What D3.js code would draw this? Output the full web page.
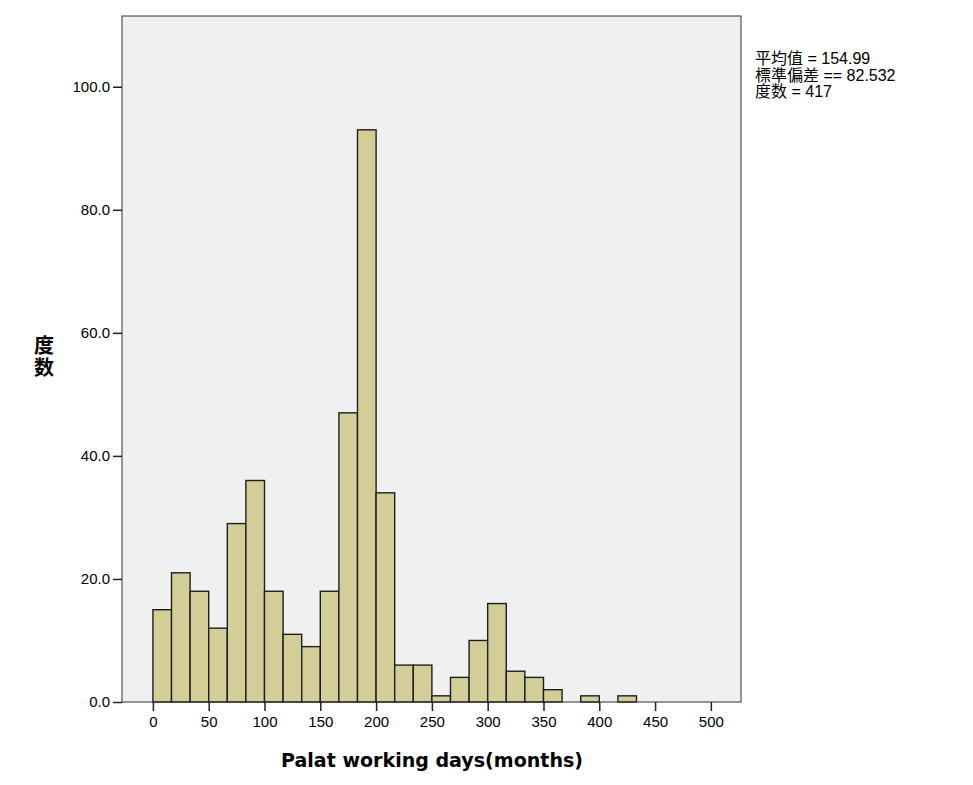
<!DOCTYPE html>
<html>
<head>
<meta charset="utf-8">
<script src="https://cdn.jsdelivr.net/npm/d3@7"></script>
<style>
  body { margin: 0; background: #fff; }
  text { font-family: "Liberation Sans", Arial, sans-serif; fill: #000; }
  .cjk { font-family: "Noto Sans CJK TC", "Noto Sans CJK SC", sans-serif; }
</style>
</head>
<body>
<div id="chart"></div>
<script>
// histogram bins (months), width 500/30
const binWidth = 50 / 3;
const binStarts = d3.range(0, 26).map(i => i * binWidth);
const counts = [15, 21, 18, 12, 29, 36, 18, 11, 9, 18, 47, 93, 34, 6, 6, 1, 4, 10, 16, 5, 4, 2, 0, 1, 0, 1];
const xTicks = [0, 50, 100, 150, 200, 250, 300, 350, 400, 450, 500];
const yTicks = [0, 20, 40, 60, 80, 100];
const statLines = ['平均值 = 154.99', '標準偏差 == 82.532', '度数 = 417'];

const margin = { top: 16, right: 232, bottom: 83, left: 122 };
const width = 973 - margin.left - margin.right;
const height = 785 - margin.top - margin.bottom;

const svg = d3.select('#chart').append('svg')
    .attr('width', 973)
    .attr('height', 785);

const g = svg.append('g')
    .attr('transform', `translate(${margin.left},${margin.top})`);

const xScale = d3.scaleLinear().domain([-27.7, 527]).range([0, width]);
const yScale = d3.scaleLinear().domain([0, 111.5]).range([height, 0]);

// plot background
g.append('rect')
    .attr('width', width)
    .attr('height', height)
    .attr('fill', '#f0f0f0');

// bars
g.selectAll('rect.bar')
    .data(binStarts.map((s, i) => ({ start: s, count: counts[i] })).filter(d => d.count > 0))
    .enter().append('rect')
    .attr('class', 'bar')
    .attr('x', d => xScale(d.start))
    .attr('y', d => yScale(d.count))
    .attr('width', d => xScale(d.start + binWidth) - xScale(d.start))
    .attr('height', d => yScale(0) - yScale(d.count))
    .attr('fill', '#d3ce97')
    .attr('stroke', '#1e1e1e')
    .attr('stroke-width', 1.4);

// frame
g.append('rect')
    .attr('width', width)
    .attr('height', height)
    .attr('fill', 'none')
    .attr('stroke', '#333')
    .attr('stroke-width', 1);

// axes
const xAxis = d3.axisBottom(xScale).tickValues(xTicks).tickSize(9).tickSizeOuter(0).tickPadding(5);
const yAxis = d3.axisLeft(yScale).tickValues(yTicks).tickSize(9).tickSizeOuter(0).tickPadding(3)
    .tickFormat(d3.format('.1f'));

const gx = g.append('g')
    .attr('transform', `translate(0,${height})`)
    .call(xAxis);
const gy = g.append('g').call(yAxis);

[gx, gy].forEach(a => {
    a.select('.domain').remove();
    a.selectAll('.tick line').attr('stroke', '#222').attr('stroke-width', 1.5);
    a.selectAll('.tick text').style('font-size', '15px').attr('fill', '#000');
});

// x title
svg.append('text')
    .attr('x', 432)
    .attr('y', 767)
    .attr('text-anchor', 'middle')
    .attr('textLength', 302)
    .attr('lengthAdjust', 'spacingAndGlyphs')
    .style('font-family', '"DejaVu Sans", sans-serif')
    .style('font-size', '19px')
    .style('font-weight', 'bold')
    .text('Palat working days(months)');

// y title, written top to bottom
svg.append('text')
    .attr('class', 'cjk')
    .attr('x', 44)
    .attr('y', 335)
    .style('writing-mode', 'vertical-rl')
    .style('letter-spacing', '2px')
    .style('font-size', '20px')
    .style('font-weight', 'bold')
    .text('度数');

// statistics
svg.append('g')
    .attr('transform', 'translate(755,64)')
    .selectAll('text')
    .data(statLines)
    .enter().append('text')
    .attr('y', (d, i) => i * 16.5)
    .style('font-size', '16px')
    .style('font-family', '"Liberation Sans", "Noto Sans CJK TC", sans-serif')
    .text(d => d);
</script>
</body>
</html>
